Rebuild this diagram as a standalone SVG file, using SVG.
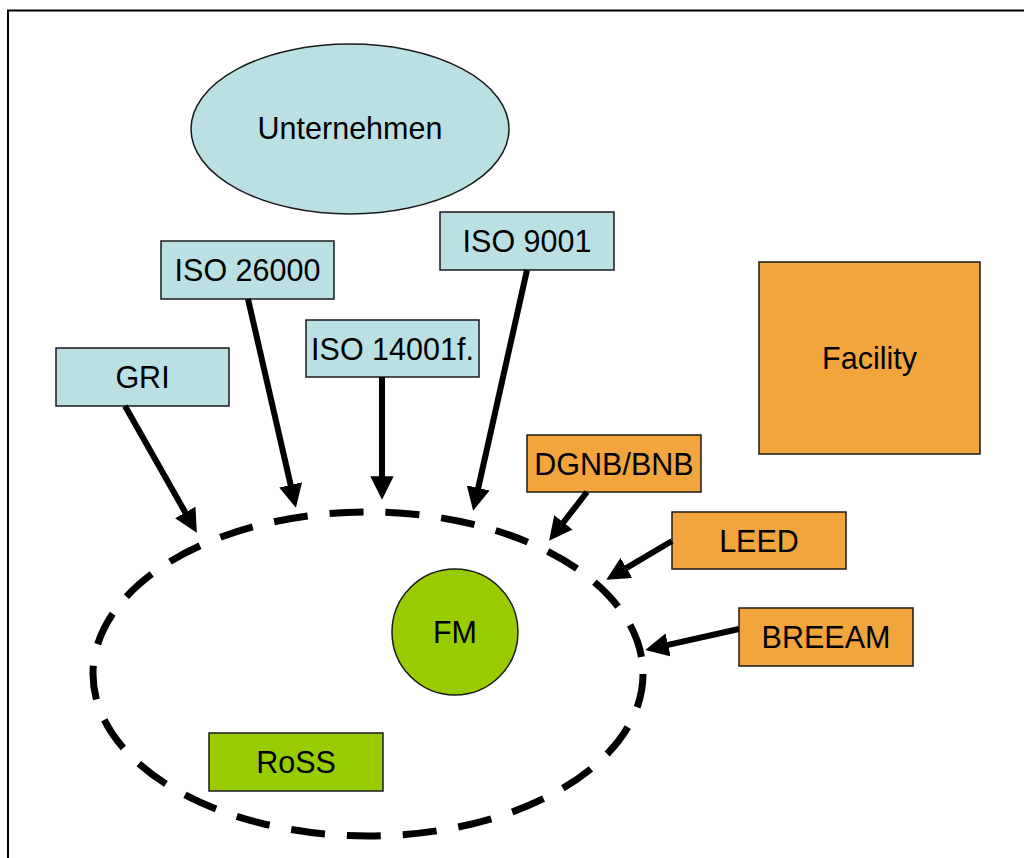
<svg xmlns="http://www.w3.org/2000/svg" width="1024" height="858" viewBox="0 0 1024 858">
<style>
.t{font-family:"Liberation Sans",Arial,sans-serif;font-size:30.5px;fill:#000;text-anchor:middle}
.blue{fill:#BBE0E3;stroke:#1a1a1a;stroke-width:1.5}
.orange{fill:#F2A53C;stroke:#1a1a1a;stroke-width:1.5}
.green{fill:#99CC00;stroke:#1a1a1a;stroke-width:1.5}
.arr{stroke:#000;stroke-width:6;fill:none;marker-end:url(#ah)}
</style>
<defs>
<marker id="ah" viewBox="0 0 10 10" refX="2" refY="5" markerWidth="3.9" markerHeight="3.9" orient="auto">
<path d="M0,0 L10,5 L0,10 z" fill="#000"/>
</marker>
</defs>
<rect width="1024" height="858" fill="#fff"/>
<path d="M8,858 L8,10.5 L1024,10.5" fill="none" stroke="#000" stroke-width="2"/>
<g id="scope">
<ellipse cx="368" cy="674" rx="275" ry="162" fill="none" stroke="#000" stroke-width="7" stroke-dasharray="34 22"/>
</g>
<g id="unternehmen"><ellipse class="blue" cx="350" cy="129" rx="159" ry="85"/><text class="t" x="350" y="139">Unternehmen</text></g>
<g id="iso9001"><rect class="blue" x="440" y="212" width="174" height="58"/><text class="t" x="527" y="252">ISO 9001</text></g>
<g id="iso26000"><rect class="blue" x="161" y="241" width="173" height="58"/><text class="t" x="247.5" y="281">ISO 26000</text></g>
<g id="iso14001"><rect class="blue" x="306" y="320" width="173" height="57"/><text class="t" x="392.5" y="360">ISO 14001f.</text></g>
<g id="gri"><rect class="blue" x="56" y="348" width="173" height="58"/><text class="t" x="142.5" y="388">GRI</text></g>
<g id="facility"><rect class="orange" x="759" y="262" width="221" height="192"/><text class="t" x="869.5" y="369">Facility</text></g>
<g id="dgnb"><rect class="orange" x="527" y="435" width="174" height="57"/><text class="t" x="614" y="475">DGNB/BNB</text></g>
<g id="leed"><rect class="orange" x="672" y="512" width="174" height="57"/><text class="t" x="759" y="552">LEED</text></g>
<g id="breeam"><rect class="orange" x="739" y="608" width="174" height="58"/><text class="t" x="826" y="648">BREEAM</text></g>
<g id="fm"><circle class="green" cx="455" cy="632" r="63"/><text class="t" x="455" y="643">FM</text></g>
<g id="ross"><rect class="green" x="209" y="733" width="174" height="58"/><text class="t" x="296" y="773">RoSS</text></g>
<g id="connectors">
<line class="arr" x1="125" y1="406" x2="187.6" y2="516.5"/>
<line class="arr" x1="248" y1="299" x2="291.7" y2="489.5"/>
<line class="arr" x1="382" y1="377" x2="382" y2="481"/>
<line class="arr" x1="527" y1="270" x2="477.2" y2="492.5"/>
<line class="arr" x1="587" y1="492" x2="560.6" y2="526"/>
<line class="arr" x1="672" y1="541" x2="622.4" y2="570.3"/>
<line class="arr" x1="739" y1="629" x2="663.5" y2="645.9"/>
</g>
</svg>
